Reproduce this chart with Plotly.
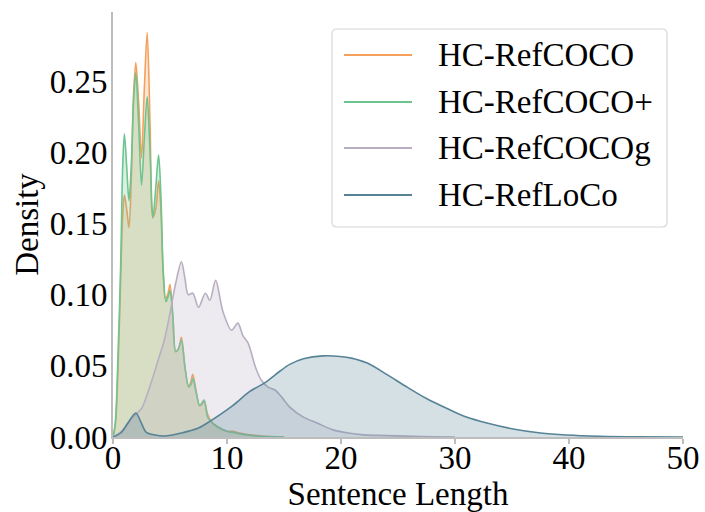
import plotly.graph_objects as go

# ---------------- data ----------------
names = ["HC-RefCOCO", "HC-RefCOCO+", "HC-RefCOCOg", "HC-RefLoCo"]

refcoco_x = [0, 0.2, 0.45, 0.7, 0.85, 1.0, 1.2, 1.4, 1.6, 1.8, 2.0, 2.25, 2.5, 2.75, 3.0, 3.25,
             3.5, 3.75, 4.0, 4.2, 4.4, 4.6, 4.8, 5.0, 5.25, 5.5, 5.75, 6.0, 6.3, 6.6, 6.8, 7.0,
             7.3, 7.6, 7.8, 8.0, 8.3, 8.7, 9.2, 10.0, 10.5, 11.0, 12.0, 13.0, 15.0]
refcoco_y = [0.0, 0.008, 0.05, 0.12, 0.155, 0.170, 0.160, 0.147, 0.18, 0.24, 0.263, 0.235, 0.196,
             0.245, 0.284, 0.22, 0.154, 0.16, 0.180, 0.16, 0.115, 0.097, 0.1, 0.107, 0.085, 0.060,
             0.062, 0.070, 0.05, 0.036, 0.038, 0.044, 0.032, 0.022, 0.023, 0.025, 0.016, 0.010,
             0.007, 0.004, 0.004, 0.003, 0.0015, 0.0007, 0.0]

refcocop_x = [0, 0.2, 0.45, 0.67, 0.85, 1.0, 1.2, 1.4, 1.6, 1.8, 2.0, 2.25, 2.5, 2.75, 3.0, 3.25,
              3.5, 3.75, 4.0, 4.2, 4.4, 4.65, 4.85, 5.0, 5.25, 5.5, 5.75, 6.0, 6.3, 6.65, 6.85,
              7.0, 7.3, 7.6, 7.8, 8.0, 8.3, 8.7, 9.2, 10.0, 10.3, 11.0, 11.8, 13.0, 15.0]
refcocop_y = [0, 0.01, 0.06, 0.12, 0.19, 0.213, 0.19, 0.166, 0.19, 0.235, 0.256, 0.22, 0.177,
              0.21, 0.239, 0.2, 0.154, 0.175, 0.198, 0.17, 0.118, 0.095, 0.099, 0.103, 0.085,
              0.060, 0.062, 0.068, 0.05, 0.035, 0.037, 0.041, 0.031, 0.022, 0.024, 0.026, 0.014,
              0.010, 0.007, 0.004, 0.0035, 0.0025, 0.0014, 0.0005, 0]

refcocog_x = [0, 0.3, 1.0, 1.75, 2.5, 3.0, 3.5, 4.0, 4.5, 5.0, 5.5, 6.0, 6.3, 6.6, 7.0, 7.5, 8.1,
              8.5, 9.0, 9.65, 10.4, 10.95, 11.4, 11.85, 12.5, 13.0, 13.6, 14.2, 14.8, 15.5, 16.7,
              17.9, 19.3, 20.5, 22.0, 24.0, 27.0, 30.0]
refcocog_y = [0, 0.0014, 0.006, 0.014, 0.02, 0.03, 0.042, 0.055, 0.068, 0.087, 0.108, 0.123,
              0.112, 0.100, 0.101, 0.091, 0.101, 0.096, 0.110, 0.088, 0.075, 0.080, 0.071, 0.066,
              0.049, 0.040, 0.035, 0.033, 0.028, 0.021, 0.014, 0.0098, 0.005, 0.003, 0.0015,
              0.001, 0.0003, 0]

refloco_x = [0, 0.7, 1.3, 2.0, 2.45, 2.9, 3.7, 4.5, 6.0, 7.5, 8.5, 10.5, 12.0, 13.3, 14.6, 15.5,
             16.7, 18.4, 20.5, 22.3, 24.0, 25.8, 27.5, 29.3, 31.0, 32.8, 35.1, 37.5, 39.8, 42.7,
             46.0, 50.0]
refloco_y = [0, 0.003, 0.0098, 0.0169, 0.0105, 0.0035, 0.0014, 0.0007, 0.0028, 0.0063, 0.011,
             0.022, 0.032, 0.038, 0.046, 0.051, 0.055, 0.057, 0.056, 0.052, 0.044, 0.035, 0.027,
             0.020, 0.014, 0.0098, 0.0056, 0.0028, 0.0014, 0.0005, 0.0001, 0]

x_ticks = [0, 10, 20, 30, 40, 50]
y_ticks = [0.00, 0.05, 0.10, 0.15, 0.20, 0.25]

# ---------------- styling ----------------
line_colors = ["#F5A05C", "#6CC48F", "#B8AFC2", "#578397"]
fill_colors = ["rgba(245,160,92,0.25)", "rgba(108,196,143,0.25)",
               "rgba(184,175,194,0.25)", "rgba(87,131,151,0.25)"]
FONT = "Liberation Serif, Times New Roman, serif"
FS = 33

series = [(refcoco_x, refcoco_y), (refcocop_x, refcocop_y),
          (refcocog_x, refcocog_y), (refloco_x, refloco_y)]

fig = go.Figure()
for (xs, ys), name, lc, fc in zip(series, names, line_colors, fill_colors):
    fig.add_trace(go.Scatter(
        x=xs, y=ys, name=name, mode="lines",
        line=dict(color=lc, width=1.6, shape="spline", smoothing=0.9),
        fill="tozeroy", fillcolor=fc, showlegend=False,
    ))

W, H = 705, 512
ml, mr, mt, mb = 113, 22, 12, 75
fig.update_layout(
    width=W, height=H,
    margin=dict(l=ml, r=mr, t=mt, b=mb, autoexpand=False),
    paper_bgcolor="white", plot_bgcolor="white",
    font=dict(family=FONT, size=FS, color="black"),
    showlegend=False,
)
fig.update_xaxes(
    range=[0, 50], tickvals=x_ticks, ticktext=[str(v) for v in x_ticks],
    showgrid=False, zeroline=False, showline=True, linecolor="#BDBDBD", linewidth=2,
    ticks="outside", ticklen=5, tickcolor="#BDBDBD", tickwidth=1.5,
    ticklabelstandoff=-15, automargin=False,
    title=dict(text="Sentence Length", standoff=0, font=dict(size=FS)),
    tickfont=dict(size=FS),
)
fig.update_yaxes(
    range=[0, 0.2985], tickvals=y_ticks, ticktext=["%.2f" % v for v in y_ticks],
    showgrid=False, zeroline=False, showline=True, linecolor="#BDBDBD", linewidth=2,
    ticks="", ticklabelstandoff=-3, automargin=False,
    title=dict(text="Density", standoff=1, font=dict(size=FS)),
    tickfont=dict(size=FS),
)

# ---------------- manual legend (paper coordinates) ----------------
pw, ph = W - ml - mr, H - mt - mb
def px(x):
    return (x - ml) / pw
def py(y):
    return (H - mb - y) / ph

x0, x1, y0, y1, r = 332, 667, 29, 227, 5
path = (f"M {px(x0 + r)},{py(y0)} L {px(x1 - r)},{py(y0)} "
        f"Q {px(x1)},{py(y0)} {px(x1)},{py(y0 + r)} L {px(x1)},{py(y1 - r)} "
        f"Q {px(x1)},{py(y1)} {px(x1 - r)},{py(y1)} L {px(x0 + r)},{py(y1)} "
        f"Q {px(x0)},{py(y1)} {px(x0)},{py(y1 - r)} L {px(x0)},{py(y0 + r)} "
        f"Q {px(x0)},{py(y0)} {px(x0 + r)},{py(y0)} Z")
fig.add_shape(type="path", path=path, xref="paper", yref="paper",
              line=dict(color="#D6D6D6", width=1.2), fillcolor="rgba(255,255,255,0.8)")
row_y = [55, 102, 148, 195]
for ry, name, lc in zip(row_y, names, line_colors):
    fig.add_shape(type="line", xref="paper", yref="paper",
                  x0=px(344), x1=px(412), y0=py(ry), y1=py(ry),
                  line=dict(color=lc, width=1.8))
    fig.add_annotation(x=px(436), y=py(ry), xref="paper", yref="paper",
                       text=name, showarrow=False, xanchor="left", yanchor="middle",
                       font=dict(family=FONT, size=FS, color="black"))

fig.write_html("out.html")
